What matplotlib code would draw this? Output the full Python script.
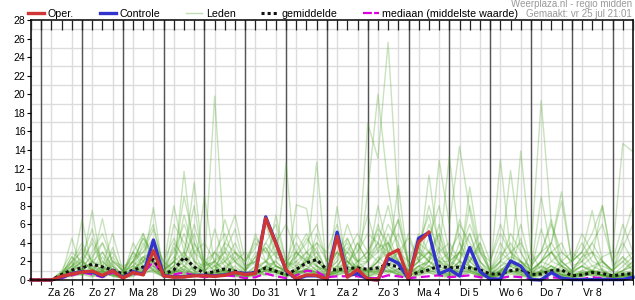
import numpy as np
import pandas as pd
import matplotlib
matplotlib.use("Agg")
import matplotlib.pyplot as plt
import matplotlib.dates as mdates
from matplotlib.lines import Line2D

plt.rcParams['font.family'] = ['Liberation Sans', 'DejaVu Sans']

# 6-hourly time axis, vr 25 jul 18:00 .. za 9 aug 12:00
times = pd.date_range("2025-07-25 18:00", periods=60, freq="6h")
day_labels = ["Za 26", "Zo 27", "Ma 28", "Di 29", "Wo 30", "Do 31", "Vr 1",
              "Za 2", "Zo 3", "Ma 4", "Di 5", "Wo 6", "Do 7", "Vr 8"]

nan = np.nan
oper = [0, 0, 0, 0.4, 0.65, 0.85, 0.95, 0.5, 1.0, 0.2, 0.8, 0.55, 3.15, 0.45,
        0.3, 0.33, 0.45, 0.45, 0.4, 0.5, 0.8, 0.6, 0.7, 6.65, 3.95, 1.08, 0.15,
        0.55, 0.5, 0.1, 4.7, 0.3, 1.15, 0.1, 0.0, 2.7, 3.25, 0.1, 4.1, 5.15,
        nan, nan, nan, nan, nan, nan, nan, nan, nan, nan, nan, nan, nan, nan,
        nan, nan, nan, nan, nan, nan]
controle = [0, 0, 0, 0.3, 0.7, 0.9, 0.85, 0.4, 1.05, 0.25, 0.9, 0.6, 4.3, 0.45,
            0.35, 0.35, 0.5, 0.5, 0.45, 0.55, 0.8, 0.7, 0.75, 6.8, 4.0, 1.0, 0.1,
            0.45, 0.45, 0.1, 5.15, 0.45, 0.7, 0.1, 0.0, 2.35, 1.8, 0.1, 4.5, 5.1,
            0.65, 1.15, 0.43, 3.5, 0.9, 0.1, 0.1, 2.05, 1.5, 0.05, 0.0, 0.8, 0.2,
            0.05, 0.05, 0.05, 0.05, 0.05, 0.05, 0.3]
gemiddelde = [0, 0, 0, 0.6, 1.07, 1.3, 1.7, 1.4, 1.07, 0.65, 1.07, 1.4, 2.2, 0.65,
              1.07, 2.45, 1.4, 0.7, 0.9, 1.2, 0.95, 0.6, 0.8, 1.3, 0.95, 0.55, 1.15,
              1.85, 2.2, 1.1, 1.1, 1.25, 1.3, 1.15, 1.3, 1.7, 1.4, 0.55, 0.8, 1.1,
              1.5, 1.3, 1.4, 1.3, 1.1, 0.65, 0.65, 1.0, 1.15, 0.6, 0.65, 1.0, 1.1,
              0.45, 0.55, 0.8, 0.7, 0.45, 0.6, 0.7]
mediaan = [0, 0, 0, 0.2, 0.5, 0.8, 0.6, 0.3, 0.8, 0.3, 0.6, 0.7, 2.0, 0.4,
           0.6, 0.8, 0.5, 0.3, 0.4, 0.5, 0.4, 0.2, 0.3, 0.7, 0.4, 0.2, 0.5,
           1.0, 0.9, 0.3, 0.4, 0.4, 0.4, 0.2, 0.2, 0.5, 0.4, 0.2, 0.3, 0.4,
           0.5, 0.3, 0.4, 0.5, 0.3, 0.1, 0.2, 0.4, 0.3, 0.1, 0.1, 0.3, 0.2,
           0.1, 0.1, 0.3, 0.2, 0.1, 0.1, 0.2]

# ensemble members (Leden), grouped per day
leden = [
    [0, 0,0,0.8,1.5, 2.2,1.0,0.6,1.8, 0.4,1.2,2.0,3.5, 0.6,1.0,11.7,2.0, 0.8,0.5,1.2,0.6, 0.3,0.8,1.5,2.0, 1.0,0.6,2.5,1.5, 0.5,1.0,2.0,1.2, 0.8,2.0,3.0,1.5, 0.6,1.0,2.5,1.8, 1.0,3.0,1.5,0.8, 0.4,1.0,2.0,1.2, 0.6,0.8,1.5,0.5, 0.3,1.0,0.8,0.5, 0.4,0.8,0.6],
    [0, 0,0,0.3,0.8, 6.5,1.2,0.5,0.9, 0.2,0.6,1.5,2.2, 0.4,0.8,2.5,10.5, 1.0,0.4,0.8,1.5, 0.6,0.4,1.0,2.2, 12.6,0.5,1.2,0.8, 0.3,1.5,0.8,2.0, 1.0,0.6,1.5,3.0, 0.8,1.2,1.0,2.5, 1.5,0.8,2.0,1.0, 0.3,0.6,1.0,2.0, 0.5,1.5,0.8,1.0, 0.6,0.3,0.8,1.2, 0.5,0.3,0.6],
    [0, 0,0,0.5,4.5, 1.0,0.8,1.5,0.6, 0.3,1.0,2.5,1.8, 0.5,1.5,0.8,0.6, 1.8,19.8,3.0,0.8, 0.4,1.0,0.6,1.5, 0.8,0.5,1.2,2.5, 0.5,0.8,1.5,0.6, 1.0,0.8,2.2,1.0, 0.5,1.5,0.8,1.2, 0.8,2.0,1.5,0.6, 0.3,0.8,1.8,1.0, 0.4,0.6,1.2,0.8, 0.5,0.8,0.4,0.6, 0.3,0.5,0.8],
    [0, 0,0,0.4,1.0, 1.5,7.5,0.8,1.2, 0.5,0.8,1.8,7.8, 0.6,2.0,1.0,0.5, 9.1,1.5,0.8,1.0, 0.5,1.2,2.0,0.8, 0.6,8.1,7.7,1.5, 0.8,1.0,2.5,1.2, 1.0,1.5,0.8,2.0, 0.5,1.0,2.0,1.5, 0.8,1.2,2.5,1.0, 0.3,1.0,2.0,1.5, 0.5,1.0,3.0,1.2, 0.8,1.5,0.8,0.5, 0.3,0.6,0.8],
    [0, 0,0,0.2,0.6, 1.2,0.8,2.5,1.0, 0.4,1.5,0.8,2.8, 0.8,3.5,1.5,0.6, 0.5,0.8,1.2,0.5, 0.3,0.8,1.5,1.0, 0.8,1.2,2.0,12.7, 0.6,1.2,0.8,1.5, 0.4,1.0,1.8,0.8, 0.6,1.5,1.0,2.0, 1.2,0.8,1.5,0.5, 0.2,0.6,1.0,0.8, 0.3,0.8,1.5,0.6, 0.4,0.6,1.0,0.5, 0.3,0.4,0.5],
    [0, 0,0,0.6,1.8, 0.8,1.5,1.0,0.5, 0.3,0.8,1.2,2.0, 0.5,1.0,0.6,1.5, 0.8,0.6,1.0,0.8, 0.4,1.0,0.6,1.2, 0.5,0.8,1.0,0.6, 0.3,7.9,1.2,0.8, 9.5,20.0,10.0,3.0, 1.0,0.8,1.5,1.0, 0.6,1.0,1.5,0.8, 0.4,1.0,0.8,1.2, 0.5,0.8,1.0,0.6, 0.4,0.8,0.5,0.6, 0.3,0.5,0.6],
    [0, 0,0,0.3,0.5, 1.0,0.6,1.2,0.8, 0.2,0.5,1.0,1.5, 0.4,0.8,1.2,0.6, 0.5,1.0,0.6,1.2, 0.8,0.5,1.5,1.0, 0.6,1.0,0.8,1.5, 0.5,1.2,2.0,1.0, 16.9,13.1,25.6,7.7, 1.5,0.8,2.0,1.2, 0.8,1.5,1.0,0.6, 0.3,0.8,1.5,1.0, 0.5,1.0,0.8,1.5, 0.6,0.5,1.0,0.8, 0.4,0.6,0.8],
    [0, 0,0,0.5,1.2, 2.0,1.0,0.8,0.6, 0.3,1.0,0.6,1.2, 0.6,0.8,1.5,1.0, 0.4,0.8,1.0,0.5, 0.6,0.8,1.2,0.8, 0.5,1.0,0.6,1.2, 0.4,0.8,1.5,1.0, 1.2,1.0,1.5,0.8, 1.0,2.0,11.3,3.0, 13.3,4.0,1.5,1.0, 0.5,1.0,1.5,0.8, 0.4,0.8,1.0,0.6, 0.5,0.8,1.0,0.5, 0.3,0.5,0.8],
    [0, 0,0,0.4,0.8, 1.2,0.5,1.0,1.5, 0.6,1.2,2.0,1.0, 0.3,0.8,1.2,0.6, 0.5,1.5,0.8,0.4, 0.3,0.6,1.0,1.5, 0.8,0.6,1.2,0.8, 0.6,1.0,0.8,1.5, 1.0,2.0,1.2,0.6, 0.8,1.5,2.0,12.9, 6.0,14.4,7.4,2.0, 0.8,1.2,1.0,0.6, 0.3,0.6,1.2,0.8, 0.4,0.6,0.8,0.5, 0.3,0.4,0.6],
    [0, 0,0,0.3,0.6, 0.8,1.2,0.6,1.0, 0.4,0.8,1.5,1.2, 0.5,1.2,0.8,0.6, 0.4,0.6,1.5,1.0, 0.5,1.0,1.2,0.8, 0.6,1.0,1.5,0.8, 0.5,1.0,0.8,1.2, 0.6,1.0,1.5,0.8, 0.5,1.0,1.5,0.8, 0.6,1.2,1.0,0.5, 0.3,0.8,1.2,13.9, 3.0,1.0,0.8,0.5, 0.4,0.6,0.8,0.5, 0.3,0.4,0.5],
    [0, 0,0,0.2,0.5, 0.6,0.8,1.0,0.4, 0.2,0.6,1.0,1.5, 0.3,0.6,1.0,0.8, 0.5,0.8,0.6,1.0, 0.4,0.6,1.0,0.8, 0.5,0.8,1.0,0.6, 0.4,0.8,1.2,0.6, 0.8,1.0,0.6,1.2, 0.5,0.8,1.2,0.6, 0.5,1.0,0.8,0.4, 0.3,0.6,1.0,0.8, 3.0,19.3,6.0,1.5, 0.8,0.5,1.0,0.6, 0.4,0.6,0.8],
    [0, 0,0,0.4,0.8, 1.0,0.6,1.5,0.8, 0.3,0.8,1.2,1.0, 0.5,0.8,1.5,0.6, 0.4,0.8,1.0,0.6, 0.5,0.8,1.0,0.6, 0.4,0.8,1.2,0.6, 0.5,0.8,1.0,1.5, 0.8,1.2,1.0,0.6, 0.5,0.8,1.0,0.6, 0.4,0.8,1.0,0.6, 0.3,0.6,1.0,0.8, 0.5,0.8,1.0,0.6, 0.4,0.8,1.0,2.5, 3.0,14.7,13.8],
    [0, 0,0,0.8,2.0, 3.0,1.5,4.0,2.0, 1.0,2.5,3.0,5.5, 1.5,8.0,3.0,1.0, 2.0,1.5,3.0,2.0, 1.0,2.5,3.5,1.5, 1.0,2.0,3.0,2.0, 1.0,3.0,2.0,1.5, 2.0,3.5,4.0,2.0, 1.0,2.5,3.0,2.0, 1.5,3.0,2.5,1.0, 0.5,1.5,2.5,2.0, 1.0,2.0,1.5,1.0, 0.8,1.5,1.0,0.8, 0.5,1.0,1.5],
    [0, 0,0,1.0,3.0, 2.0,4.0,1.5,3.0, 1.0,2.0,4.5,3.0, 1.0,2.0,5.0,2.0, 1.5,3.0,2.0,4.0, 1.5,2.0,1.0,7.0, 2.0,1.5,3.0,4.0, 2.0,1.0,4.5,2.0, 3.0,5.0,2.0,10.2, 1.5,3.0,2.0,3.5, 2.0,1.5,10.0,3.0, 1.0,2.5,4.0,2.0, 1.5,3.0,4.0,8.5, 2.0,3.0,1.5,2.0, 1.0,2.5,1.5],
    [0, 0,0,0.5,2.5, 1.0,2.0,6.6,1.5, 0.5,3.0,2.0,4.0, 2.0,1.0,3.0,8.0, 1.0,2.0,4.0,3.0, 2.0,3.5,6.0,2.5, 1.5,4.0,2.0,3.0, 1.0,2.0,3.5,2.0, 2.5,4.0,8.0,3.0, 2.0,4.0,3.0,2.0, 1.0,3.0,5.0,2.0, 0.5,2.0,11.8,3.0, 1.0,2.0,3.0,1.5, 2.0,3.0,7.5,2.0, 1.0,2.0,1.0],
    [0, 0,0,0.3,1.0, 0.5,1.5,0.8,0.4, 0.2,0.6,1.0,2.0, 0.3,1.0,0.6,0.5, 0.8,0.4,1.0,0.6, 0.3,0.8,0.5,1.0, 0.6,0.4,1.0,0.8, 0.3,0.6,1.0,0.5, 0.4,0.8,1.2,0.6, 0.3,0.6,1.0,0.8, 0.4,0.6,1.0,0.5, 0.2,0.5,0.8,0.6, 0.3,0.6,0.8,0.4, 0.2,0.5,0.8,0.4, 0.2,0.4,0.5],
    [0, 0,0,0.6,1.5, 3.5,2.0,1.0,2.5, 0.8,1.5,5.0,2.0, 0.6,4.0,2.5,1.0, 1.5,2.0,3.0,5.5, 1.0,3.0,2.0,1.5, 1.0,2.5,4.5,3.0, 1.0,5.0,2.0,1.0, 2.0,3.0,6.0,4.0, 1.0,2.0,4.5,8.0, 3.0,2.0,5.0,1.5, 0.5,13.0,3.0,1.0, 1.0,2.0,3.0,4.0, 1.5,2.0,3.0,1.0, 0.5,1.0,2.0],
    [0, 0,0,0.4,1.0, 1.5,2.5,4.0,1.0, 0.5,2.0,3.5,6.0, 1.0,2.5,1.5,3.0, 0.8,3.0,1.5,2.0, 0.6,1.5,4.0,2.5, 2.0,1.0,2.0,3.5, 0.8,2.5,4.0,1.5, 1.0,2.0,3.5,6.5, 1.5,3.0,2.0,5.0, 1.0,4.0,2.0,3.5, 0.8,2.0,1.5,4.5, 0.6,2.0,4.0,2.0, 1.0,1.5,2.5,8.0, 1.5,2.5,1.0],
    [0, 0,0,0.2,0.4, 0.6,0.3,0.8,0.5, 0.2,0.4,0.8,1.0, 0.3,0.6,0.4,0.8, 0.3,0.5,0.8,0.4, 0.2,0.5,0.6,0.4, 0.3,0.6,0.4,0.8, 0.2,0.5,0.8,0.4, 0.3,0.6,1.0,0.5, 0.2,0.5,0.8,0.4, 0.3,0.5,0.8,0.4, 0.2,0.4,0.6,0.5, 0.2,0.4,0.6,0.3, 0.2,0.4,0.6,0.3, 0.2,0.3,0.4],
    [0, 0,0,0.5,2.0, 1.0,3.0,5.0,2.0, 1.0,1.5,2.5,3.0, 0.5,6.0,4.0,2.0, 1.0,5.5,2.0,3.0, 1.5,2.0,6.5,3.0, 2.0,5.0,3.0,1.5, 1.0,2.0,6.0,3.0, 5.0,4.0,3.0,2.0, 1.0,3.5,2.0,6.0, 2.0,6.0,4.0,2.0, 1.0,3.0,2.0,6.0, 1.5,3.0,6.0,3.0, 2.0,4.0,2.0,1.5, 1.0,2.0,3.0],
    [0, 0,0,0.3,1.2, 2.0,1.0,3.0,1.5, 0.4,4.0,2.0,1.5, 0.8,1.5,7.0,3.0, 2.0,1.0,4.0,7.0, 2.0,4.0,3.0,1.5, 1.0,3.0,1.5,5.0, 2.0,3.0,1.5,4.0, 2.0,6.0,3.0,1.5, 1.0,4.0,7.0,2.0, 3.0,5.0,2.0,4.0, 1.0,2.0,3.0,2.0, 1.0,9.0,3.0,2.0, 1.0,2.5,4.0,2.0, 1.0,3.5,6.0],
    [0, 0,0,0.6,1.0, 2.0,1.2,0.8,3.5, 0.6,2.0,4.5,2.0, 1.0,2.0,1.0,4.0, 1.5,2.0,1.0,2.5, 0.8,5.0,2.0,1.0, 1.0,1.5,2.0,1.5, 1.0,1.5,3.0,2.0, 3.0,2.0,5.0,2.0, 1.0,2.0,1.5,3.0, 1.0,2.0,1.0,1.5, 0.5,1.0,2.0,1.5, 0.8,1.5,1.0,2.0, 1.0,2.0,1.0,0.8, 0.5,1.0,2.0],
    [0, 0,0,0.2,0.8, 1.0,0.5,0.3,0.6, 0.3,0.8,2.5,1.0, 0.4,1.0,0.8,0.5, 0.6,1.0,2.0,0.8, 0.5,0.8,1.5,1.0, 0.4,0.8,1.2,0.8, 0.4,0.8,2.0,0.8, 0.6,1.5,0.8,1.2, 0.5,0.8,1.5,1.0, 0.5,0.8,1.2,0.6, 0.3,0.8,1.0,0.6, 0.4,0.8,1.0,0.5, 0.3,0.6,1.0,0.5, 0.3,0.5,0.8],
    [0, 0,0,0.8,2.0, 4.0,2.0,1.5,5.0, 1.0,3.0,1.5,2.5, 1.0,2.0,9.0,4.0, 2.0,3.0,5.0,2.0, 1.0,2.5,4.0,6.0, 2.0,3.0,5.0,2.0, 1.0,3.0,1.5,4.0, 2.0,8.0,3.0,5.0, 2.0,5.0,3.0,2.0, 2.0,3.0,6.0,3.0, 1.0,4.0,2.0,1.0, 0.5,2.0,4.0,9.5, 2.0,3.0,5.0,8.0, 2.0,4.0,2.0],
    [0, 0,0,0.3,0.6, 0.8,0.4,1.0,0.6, 0.3,0.6,1.0,0.8, 0.4,0.8,0.6,0.5, 0.4,0.6,0.8,0.5, 0.3,0.6,1.0,0.8, 0.4,0.6,0.8,0.6, 0.3,0.6,0.8,0.5, 0.4,0.8,1.0,0.6, 0.3,0.6,0.8,0.5, 0.3,0.5,0.8,0.5, 0.2,0.5,0.8,0.4, 0.3,0.5,0.6,0.4, 0.2,0.4,0.6,0.4, 0.2,0.3,0.5],
    [0, 0,0,0.4,1.5, 1.0,2.0,1.0,0.5, 0.4,1.0,2.0,3.0, 1.0,2.0,3.0,1.5, 1.0,1.5,2.0,1.0, 0.5,1.0,2.0,3.0, 1.5,2.0,1.0,2.5, 0.8,1.5,3.0,1.0, 1.0,2.5,1.5,2.0, 1.0,2.0,3.0,1.5, 1.0,2.0,1.5,1.0, 0.5,1.5,2.0,1.0, 0.6,1.0,2.0,1.5, 0.8,1.5,1.0,2.0, 0.6,1.0,1.5],
    [0, 0,0,0.6,2.5, 1.5,4.5,2.0,1.0, 0.8,3.0,5.0,2.0, 1.5,3.0,6.0,3.0, 4.0,2.0,6.5,3.0, 2.0,4.5,3.0,5.0, 1.5,2.5,4.0,6.0, 2.0,4.0,3.0,5.0, 3.0,5.5,4.0,6.5, 2.0,3.0,8.0,4.0, 2.0,6.5,3.0,5.0, 2.0,5.0,3.0,2.0, 1.0,5.5,2.0,3.0, 2.0,5.0,3.0,2.0, 1.0,4.5,8.0],
    [0, 0,0,0.4,1.0, 0.6,1.0,2.0,1.0, 0.3,1.2,4.0,1.5, 0.6,1.0,2.0,1.0, 0.5,1.0,2.5,1.0, 0.6,1.5,1.0,2.0, 0.8,1.0,2.0,1.0, 0.6,1.0,1.5,1.0, 1.0,2.0,4.0,1.5, 0.8,1.5,2.0,1.0, 0.6,1.5,2.0,1.0, 0.4,1.0,1.5,2.0, 0.5,1.0,1.5,1.0, 0.6,1.0,1.5,1.0, 0.4,0.8,1.0],
    [0, 0,0,0.5,1.5, 2.5,5.5,1.0,2.0, 1.5,2.0,3.0,4.5, 2.0,4.5,2.0,6.0, 2.0,1.0,3.5,2.0, 3.0,1.5,2.0,4.0, 6.0,3.0,2.0,4.0, 3.0,6.0,2.0,3.0, 7.0,3.0,4.0,2.0, 5.0,2.0,6.0,3.0, 4.0,2.0,8.0,3.0, 2.0,6.0,3.0,4.0, 2.0,3.0,6.5,2.0, 3.0,2.0,4.0,6.0, 2.0,6.0,3.0],
    [0, 0,0,0.3,0.8, 1.0,2.0,3.0,1.0, 0.5,2.0,1.0,2.0, 0.6,1.5,2.5,5.0, 1.0,2.0,1.0,3.0, 1.0,2.0,3.5,1.5, 1.0,3.0,2.0,1.0, 1.5,3.0,4.5,2.0, 2.0,4.0,2.0,3.0, 4.5,2.0,3.0,5.0, 2.0,3.0,2.0,4.0, 1.0,2.0,5.0,3.0, 1.0,2.0,3.0,1.5, 1.0,2.5,3.0,1.0, 0.5,1.5,2.5],
]

x = mdates.date2num(times)
midnights = x[times.hour == 0]
noons = x[times.hour == 12][:len(day_labels)]

fig = plt.figure(figsize=(6.35, 3.0), dpi=100)
ax = fig.add_axes([31 / 635, 20 / 300, 602 / 635, 260 / 300])

# grid: light every 6 h / every unit, dark at midnight
ax.set_xticks(x, minor=True)
ax.set_yticks(np.arange(0, 29, 1), minor=True)
ax.grid(which='minor', color='#dcdcdc', lw=1.0, zorder=0.5)
for m in midnights:
    ax.axvline(m, color='#555555', lw=1.0, zorder=1.8)

green = (0.3, 0.64, 0.15)
for member in leden:
    ax.plot(x, member, color=green, lw=1.0, alpha=0.3, zorder=2)

ax.plot(x, mediaan, color='#dd00dd', lw=1.6, dashes=(4, 2), zorder=3, clip_on=False)
ax.plot(x, gemiddelde, color='#111111', lw=2.2, dashes=(1, 1), zorder=4, clip_on=False)
ax.plot(x, controle, color='#3232cc', lw=2.4, zorder=5, clip_on=False)
ax.plot(x, oper, color='#d03535', lw=2.4, zorder=6, clip_on=False)

ax.set_xlim(x[0], x[-1])
ax.set_ylim(0, 28)
ax.set_yticks(np.arange(0, 29, 2))
ax.set_xticks(noons)
ax.set_xticklabels(day_labels)

ax.tick_params(axis='x', which='major', length=0, pad=6, labelsize=7.5)
ax.tick_params(axis='x', which='minor', length=3.5, width=0.8, direction='out',
               color='#222222')
ax.tick_params(axis='y', which='major', length=3, width=0.8, labelsize=7.5, pad=1)
ax.tick_params(axis='y', which='minor', length=0)
for s in ax.spines.values():
    s.set_linewidth(1.1)
    s.set_zorder(7)

# top ticks pointing inward, every 6 h
ax_top = ax.twiny()
ax_top.set_xlim(ax.get_xlim())
ax_top.set_xticks(x)
ax_top.tick_params(axis='x', direction='in', length=7, width=0.9, color='#222222',
                   labeltop=False, bottom=False, top=True)
ax_top.patch.set_visible(False)
for s in ax_top.spines.values():
    s.set_visible(False)

handles = [
    Line2D([], [], color='#d03535', lw=2.4),
    Line2D([], [], color='#3232cc', lw=2.4),
    Line2D([], [], color=(0.75, 0.87, 0.7), lw=1.0),
    Line2D([], [], color='#111111', lw=2.2, dashes=(1, 1)),
    Line2D([], [], color='#dd00dd', lw=1.6, dashes=(4, 1)),
]
labels = ["Oper.", "Controle", "Leden", "gemiddelde", "mediaan (middelste waarde)"]
fig.legend(handles, labels, loc='center left', bbox_to_anchor=(28 / 635, 1 - 14 / 300),
           ncol=5, frameon=False, fontsize=7.7, handlelength=1.5, handletextpad=0.35,
           columnspacing=2.4, borderpad=0, borderaxespad=0)

fig.text(632 / 635, 1 - 4 / 300, "Weerplaza.nl - regio midden", ha='right', va='center',
         fontsize=7, color='#9a9a9a')
fig.text(632 / 635, 1 - 14 / 300, "Gemaakt: vr 25 jul 21:01", ha='right', va='center',
         fontsize=7, color='#9a9a9a')

fig.savefig("out.png", dpi=100)
